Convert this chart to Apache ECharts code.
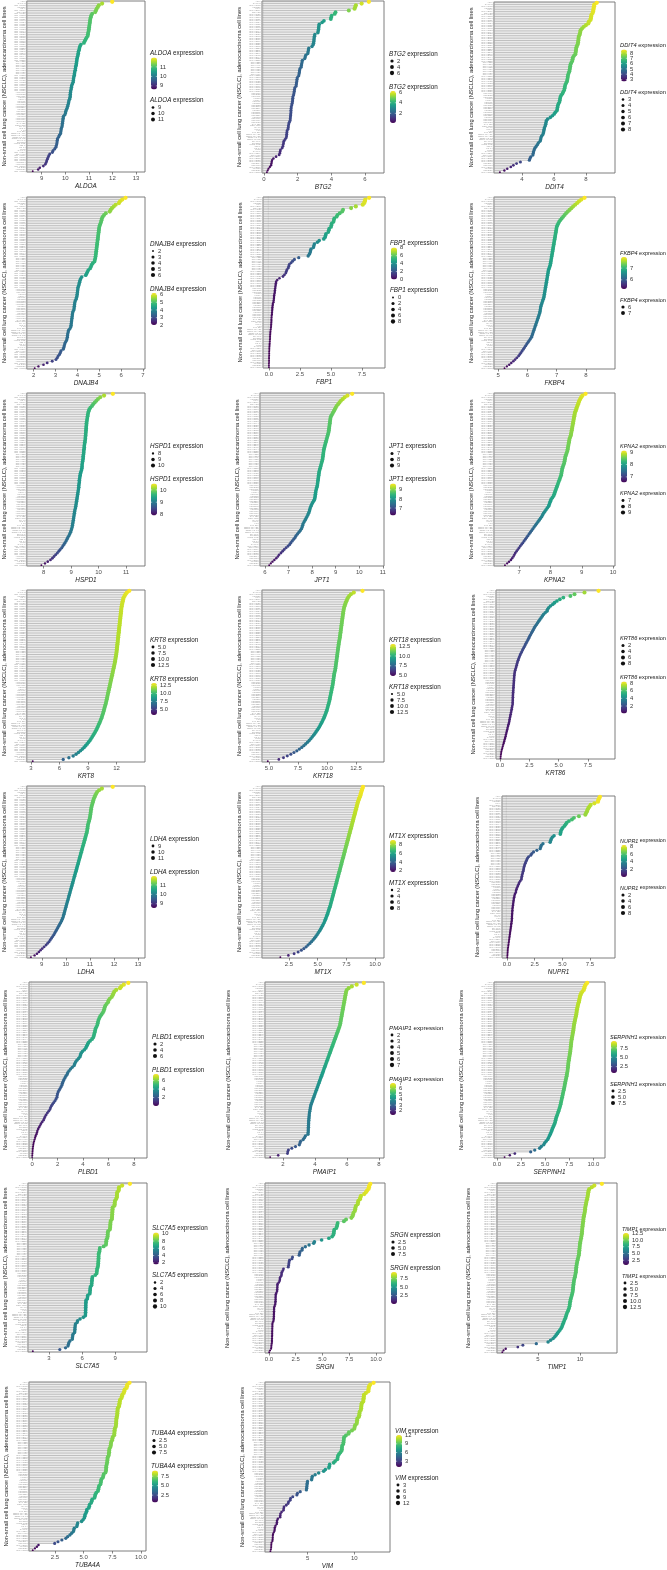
<!DOCTYPE html>
<html><head><meta charset="utf-8">
<script src="https://cdn.jsdelivr.net/npm/echarts@6/dist/echarts.min.js"></script>
<style>html,body{margin:0;padding:0;background:#fff}#c{width:667px;height:1570px}</style>
</head><body><div id="c"></div>
<script>
const cellLines = ["A549","CALU-3","NCI-H1975","HCC827","PC-9","NCI-H2009","NCI-H23","NCI-H1437","NCI-H1563","NCI-H1568",
"NCI-H1651","NCI-H1648","NCI-H1734","NCI-H1755","NCI-H1781","NCI-H1793","NCI-H1838","NCI-H1944","NCI-H2023","NCI-H2030",
"NCI-H2073","NCI-H2085","NCI-H2087","NCI-H2106","NCI-H2122","NCI-H2126","NCI-H2172","NCI-H2228","NCI-H2291","NCI-H2342",
"NCI-H2347","NCI-H2405","NCI-H2444","NCI-H3122","NCI-H3255","NCI-H322","NCI-H358","NCI-H441","NCI-H522","NCI-H650",
"NCI-H838","NCI-H920","NCI-H969","NCI-H1355","NCI-H1373","NCI-H1395","NCI-H1435","NCI-H1623","NCI-H1573","NCI-H1666",
"NCI-H1792","NCI-H2135","NCI-H1650","HCC4006","HCC2935","HCC4011","HCC78","HCC44","HCC461","HCC515",
"HCC1833","HCC2108","HCC2279","HCC366","HCC1171","HCC1195","HCC1359","HCC193","HCC4017","HCC4019",
"HCC1438","CAL-12T","COR-L105","DV-90","HLC-1","II-18","LXF-289","RERF-LC-AD1","RERF-LC-AD2","RERF-LC-KJ",
"RERF-LC-MS","SK-LU-1","SW1573","VMRC-LCD","ABC-1","PC-14","LU65","CALU-1","NCI-H1299","NCI-H460",
"NCI-H1819","NCI-H2882","NCI-H3022","NCI-H1993","HCC2814","HCC4018","NCI-H2066","LC-2/ad","HCC2429","NCI-H1703"];

const ALDOA = [11.99,11.56,11.42,11.38,11.33,11.30,11.27,11.14,11.10,11.08,11.06,11.05,11.04,11.03,11.02,11.01,11.00,10.99,10.97,10.96,10.95,
10.90,10.86,10.82,10.79,10.66,10.62,10.60,10.59,10.56,10.55,10.54,10.52,10.50,10.49,10.48,10.47,10.46,10.44,10.43,10.42,10.40,10.39,10.38,
10.36,10.35,10.34,10.33,10.30,10.27,10.26,10.25,10.23,10.22,10.21,10.21,10.20,10.18,10.15,10.14,10.12,10.10,10.08,10.05,10.02,10.01,9.98,
9.92,9.91,9.90,9.89,9.88,9.87,9.86,9.83,9.82,9.81,9.80,9.75,9.72,9.67,9.66,9.65,9.64,9.62,9.60,9.55,9.48,9.45,9.34,9.30,9.27,9.24,
9.21,9.19,9.15,9.07,8.92,8.85,8.62];
const BTG2 = [6.23,5.80,5.46,5.42,5.38,5.04,4.25,4.20,4.02,3.99,3.97,3.56,3.45,3.28,3.26,3.25,3.24,3.22,3.20,
3.02,3.00,2.98,2.97,2.96,2.94,2.92,2.85,2.66,2.64,2.62,2.60,2.48,2.45,2.42,2.28,2.26,2.24,2.22,2.20,2.13,2.11,2.10,2.08,2.06,
1.98,1.96,1.95,1.93,1.92,1.90,1.83,1.81,1.80,1.78,1.76,1.72,1.71,1.70,1.69,1.67,1.65,1.62,1.61,1.60,1.60,1.59,1.58,1.57,1.56,1.55,1.50,
1.47,1.45,1.44,1.42,1.37,1.36,1.35,1.34,1.32,1.25,1.18,1.16,1.14,1.12,1.08,0.98,0.96,0.94,0.90,0.72,0.56,0.48,0.46,0.44,0.42,0.35,0.27,0.22,0.17];
const DDIT4 = [8.67,8.52,8.50,8.48,8.46,8.44,8.41,8.34,8.32,8.30,8.28,8.18,8.14,8.00,7.86,7.75,7.66,7.64,7.62,7.58,
7.54,7.53,7.52,7.50,7.49,7.44,7.40,7.38,7.37,7.35,7.33,7.25,7.18,7.16,7.14,7.08,7.03,7.01,7.00,6.98,6.96,6.92,
6.88,6.86,6.85,6.83,6.81,6.75,6.70,6.68,6.66,6.64,6.58,6.53,6.45,6.40,6.38,6.36,6.34,6.28,6.24,6.22,6.20,6.18,6.08,
6.01,5.90,5.77,5.60,5.52,5.50,5.48,5.45,5.40,5.38,5.36,5.34,5.30,5.22,5.18,5.16,5.12,5.02,4.96,4.88,4.80,4.76,
4.72,4.70,4.68,4.55,4.50,4.46,3.90,3.66,3.46,3.30,3.08,2.90,2.62];
const DNAJB4 = [6.20,6.05,5.95,5.90,5.75,5.66,5.58,5.52,5.48,5.30,5.22,5.16,5.12,5.10,5.08,5.05,5.02,5.00,4.99,4.98,
4.97,4.96,4.95,4.94,4.93,4.92,4.91,4.90,4.89,4.88,4.87,4.86,4.85,4.84,4.83,4.82,4.80,4.78,4.70,4.65,4.62,4.58,4.50,4.46,4.42,4.38,
4.20,4.15,4.12,4.10,4.08,4.06,4.03,4.02,4.01,4.00,3.99,3.98,3.96,3.94,3.90,3.88,3.87,3.86,3.85,3.84,
3.80,3.78,3.77,3.76,3.75,3.74,3.73,3.72,3.71,3.70,3.66,3.60,3.58,3.56,3.55,3.54,3.52,3.50,3.45,3.42,3.40,3.38,3.35,
3.25,3.22,3.18,3.12,3.08,3.02,2.85,2.62,2.45,2.22,2.05];
const FBP1 = [8.07,7.76,7.72,7.68,7.56,7.00,6.62,5.97,5.90,5.70,5.52,5.45,5.26,5.23,5.20,5.06,5.03,5.00,4.85,4.82,4.78,
4.60,4.56,4.52,4.42,4.05,3.90,3.66,3.62,3.58,3.38,3.35,3.32,3.25,3.16,2.40,2.05,1.90,1.78,1.64,1.60,1.56,1.45,1.40,1.36,1.25,1.13,0.85,
0.67,0.58,0.56,0.54,0.52,0.50,0.48,0.47,0.45,0.42,0.41,0.40,0.38,0.36,0.31,0.30,0.28,0.27,0.26,0.25,0.24,0.22,
0.21,0.20,0.20,0.19,0.18,0.17,0.16,0.14,0.12,0.11,0.10,0.09,0.09,0.08,0.07,0.06,0.05,0.04,
0.03,0.03,0.02,0.02,0.02,0.01,0.01,0.01,0.01,0.00,0.00,0.00];
const FKBP4 = [7.95,7.84,7.76,7.70,7.63,7.56,7.50,7.44,7.38,7.32,7.27,7.22,7.17,7.12,7.08,7.05,
7.02,7.00,6.99,6.98,6.97,6.96,6.95,6.94,6.93,6.92,6.91,6.90,6.89,6.88,6.87,6.86,6.85,6.84,6.83,6.82,6.81,6.80,6.79,6.78,6.76,
6.74,6.72,6.71,6.70,6.69,6.68,6.67,6.66,6.65,6.64,6.63,6.62,6.61,6.60,6.59,6.58,6.57,6.56,
6.54,6.52,6.50,6.48,6.46,6.45,6.44,6.43,6.42,6.40,6.38,6.36,6.34,6.32,6.30,6.28,6.26,6.24,6.22,6.20,6.18,6.16,6.14,6.10,6.06,6.02,
5.98,5.94,5.90,5.86,5.82,5.78,5.74,5.70,5.64,5.58,5.52,5.45,5.38,5.30,5.22];
const HSPD1 = [10.52,10.20,10.06,9.98,9.92,9.86,9.80,9.76,9.70,9.66,9.64,9.62,9.61,9.60,9.59,9.58,
9.57,9.56,9.56,9.55,9.55,9.54,9.54,9.53,9.53,9.52,9.52,9.51,9.50,9.49,9.48,9.48,9.47,9.46,9.46,9.45,9.44,9.44,9.43,9.42,9.41,9.40,9.40,9.39,9.38,9.36,
9.34,9.33,9.32,9.31,9.30,9.30,9.29,9.28,9.28,9.27,9.26,9.25,9.24,9.23,9.22,9.21,9.20,9.19,9.18,9.17,9.16,
9.14,9.13,9.12,9.11,9.10,9.09,9.08,9.07,9.06,9.05,9.04,9.02,9.00,8.98,8.95,8.92,8.88,8.85,8.82,8.78,8.74,8.70,8.66,8.60,
8.55,8.50,8.44,8.38,8.32,8.25,8.15,8.05,7.92];
const JPT1 = [9.70,9.50,9.38,9.30,9.22,9.16,9.10,9.04,9.00,8.96,8.92,8.88,8.84,
8.80,8.78,8.77,8.76,8.75,8.74,8.73,8.72,8.71,8.70,8.68,8.66,8.64,8.62,8.60,8.58,8.56,8.54,
8.52,8.50,8.49,8.48,8.47,8.46,8.45,8.44,8.42,8.40,8.38,8.36,8.34,8.32,8.30,
8.29,8.28,8.27,8.26,8.25,8.24,8.23,8.22,8.20,8.18,8.16,8.15,8.14,8.13,8.12,8.10,
8.06,8.02,7.98,7.95,7.92,7.90,7.88,7.85,7.82,7.78,7.74,7.70,7.66,7.62,7.60,7.58,7.55,7.50,7.44,7.38,7.32,7.28,7.22,7.16,7.10,
7.05,6.98,6.90,6.82,6.75,6.68,6.60,6.55,6.48,6.40,6.32,6.25,6.18];
const KPNA2 = [9.12,9.02,8.98,8.95,8.92,8.90,8.88,8.86,8.84,8.82,8.80,
8.78,8.77,8.76,8.75,8.74,8.73,8.72,8.71,8.70,8.69,8.68,8.67,8.66,8.65,8.63,
8.61,8.60,8.59,8.58,8.57,8.56,8.55,8.54,8.52,8.50,8.48,8.47,8.46,8.45,8.44,8.42,8.40,
8.38,8.37,8.36,8.35,8.34,8.32,8.30,8.28,8.26,8.24,8.22,8.20,8.18,8.16,8.14,8.12,8.10,8.06,
8.02,8.00,7.98,7.96,7.94,7.90,7.86,7.82,7.78,7.75,7.72,7.68,7.64,7.60,7.56,
7.52,7.48,7.44,7.40,7.36,7.32,7.28,7.24,7.20,7.16,7.12,7.08,7.04,7.00,6.96,6.92,6.88,6.85,6.82,6.78,6.74,6.68,6.62,6.55];
const KRT8 = [13.35,13.10,12.95,12.85,12.75,12.70,12.66,12.62,12.58,12.55,12.52,
12.50,12.48,12.46,12.44,12.42,12.40,12.38,12.36,12.34,12.32,12.30,12.28,12.26,
12.24,12.22,12.20,12.18,12.16,12.14,12.12,12.10,12.08,12.06,12.04,12.02,12.00,11.97,11.94,11.91,11.88,
11.85,11.82,11.78,11.74,11.70,11.66,11.62,11.58,11.54,11.50,11.46,11.42,11.38,11.34,11.30,11.26,11.22,11.18,
11.14,11.10,11.06,11.02,10.98,10.94,10.90,10.85,10.80,10.75,10.70,10.65,10.60,10.54,10.48,10.42,10.35,
10.28,10.20,10.12,10.04,9.95,9.86,9.76,9.66,9.55,9.44,9.32,9.20,9.06,8.92,8.76,8.60,8.42,8.22,8.00,7.75,7.45,7.00,6.40,3.20];
const KRT18 = [13.05,12.30,12.05,11.90,11.80,11.72,11.66,11.60,11.55,11.50,
11.46,11.43,11.40,11.38,11.36,11.34,11.32,11.30,11.28,11.26,11.24,11.22,11.20,11.18,11.16,11.14,11.12,11.10,11.08,11.05,
11.02,11.00,10.98,10.96,10.94,10.92,10.90,10.88,10.86,10.84,10.82,10.80,10.78,10.76,10.74,10.72,10.70,10.66,
10.62,10.60,10.58,10.56,10.54,10.52,10.50,10.47,10.44,10.41,10.38,10.35,10.32,10.29,10.26,10.23,10.20,10.16,
10.12,10.08,10.04,10.00,9.95,9.90,9.84,9.78,9.72,9.65,9.58,9.50,9.42,9.34,9.25,
9.15,9.05,8.95,8.84,8.72,8.60,8.46,8.32,8.16,8.00,7.82,7.62,7.40,7.15,6.88,6.58,6.25,5.85,4.90];
const KRT86 = [8.40,7.20,6.35,6.00,5.40,5.10,4.85,4.65,4.50,4.30,4.15,4.05,4.00,3.85,3.70,3.60,3.50,3.40,
3.30,3.20,3.10,3.00,2.92,2.84,2.76,2.68,2.60,2.52,2.45,2.38,2.30,2.22,2.15,2.08,2.00,1.92,1.85,1.78,1.72,1.66,1.60,1.55,
1.50,1.46,1.42,1.38,1.34,1.30,1.26,1.24,1.22,1.21,1.20,1.19,1.18,1.17,1.16,1.15,1.14,1.13,1.12,1.11,1.10,1.10,1.09,1.09,1.08,1.08,
1.05,1.02,1.00,0.97,0.94,0.91,0.88,0.85,0.82,0.80,0.77,0.73,0.69,0.65,0.62,0.58,0.55,0.51,0.48,0.44,0.40,
0.36,0.32,0.28,0.24,0.20,0.16,0.12,0.10,0.08,0.06,0.05];
const LDHA = [11.95,11.50,11.38,11.30,11.26,11.22,11.19,11.16,11.14,11.12,
11.10,11.08,11.06,11.05,11.04,11.03,11.02,11.01,11.00,10.98,10.96,10.94,10.92,10.91,10.90,10.89,10.88,
10.86,10.84,10.82,10.80,10.78,10.76,10.74,10.72,10.70,10.68,10.66,10.64,10.62,10.60,10.58,10.56,10.54,10.52,10.50,10.48,
10.46,10.44,10.42,10.40,10.38,10.36,10.34,10.32,10.30,10.28,10.26,10.24,10.22,10.20,10.18,10.16,10.14,10.12,10.10,10.08,
10.06,10.04,10.02,10.00,9.98,9.96,9.94,9.92,9.90,9.88,9.85,9.82,9.78,9.74,9.70,9.66,9.62,
9.58,9.54,9.50,9.45,9.40,9.35,9.30,9.24,9.18,9.10,9.02,8.95,8.88,8.80,8.70,8.55];
const MT1X = [8.95,8.90,8.85,8.80,8.76,8.72,8.66,8.60,8.55,8.50,8.46,8.42,8.38,8.34,8.30,8.26,8.22,8.18,
8.14,8.10,8.06,8.02,7.98,7.94,7.90,7.86,7.82,7.78,7.74,7.70,7.66,7.62,7.58,
7.54,7.50,7.46,7.42,7.38,7.34,7.30,7.26,7.22,7.18,7.14,7.10,7.06,7.02,6.98,6.94,6.90,6.86,6.82,6.78,
6.74,6.70,6.66,6.62,6.58,6.54,6.50,6.46,6.42,6.38,6.34,6.30,6.26,6.22,6.18,6.14,6.10,6.05,6.00,5.95,
5.90,5.85,5.80,5.74,5.68,5.62,5.56,5.48,5.40,5.32,5.24,5.15,5.05,4.95,
4.84,4.72,4.60,4.46,4.32,4.16,4.00,3.80,3.58,3.30,2.95,2.45,1.75];
const NUPR1 = [8.40,8.32,8.25,8.22,7.90,7.56,7.45,7.35,7.28,7.23,7.15,7.08,6.50,6.05,5.87,5.60,5.40,
5.30,5.20,5.05,4.95,4.88,4.85,4.82,4.25,4.10,4.00,3.95,3.90,3.25,3.10,3.05,3.00,2.70,2.40,2.25,
2.15,1.95,1.85,1.78,1.72,1.66,1.60,1.56,1.52,1.50,1.46,1.42,1.38,1.35,1.32,1.30,1.20,1.10,
1.05,0.98,0.92,0.86,0.82,0.80,0.72,0.68,0.65,0.62,0.60,0.58,0.56,0.54,0.52,0.50,0.49,0.48,0.47,0.46,0.45,0.45,
0.44,0.42,0.40,0.38,0.36,0.34,0.32,0.30,0.28,0.26,0.24,0.22,0.20,0.18,0.16,0.14,0.12,0.10,0.08,0.07,0.06,0.05,0.04,0.03];
const PLBD1 = [7.55,7.20,7.00,6.90,6.60,6.45,6.38,6.32,6.25,6.10,6.00,5.96,5.85,5.75,5.70,5.66,
5.62,5.55,5.45,5.35,5.28,5.22,5.18,5.15,5.12,5.05,4.98,4.95,4.92,4.88,4.85,4.80,4.70,4.55,4.42,4.35,4.28,
4.22,4.10,3.95,3.85,3.80,3.76,3.65,3.52,3.42,3.35,3.30,3.15,3.02,2.90,2.80,2.75,2.65,2.58,2.50,2.44,2.38,
2.35,2.28,2.20,2.12,2.05,2.00,1.97,1.95,1.88,1.80,1.70,1.60,1.52,1.45,1.40,1.30,1.20,1.10,1.02,0.96,
0.90,0.80,0.70,0.63,0.55,0.48,0.42,0.39,0.34,0.28,0.24,0.20,0.16,0.12,0.10,0.08,0.06,0.05,0.04,0.03,0.02,0.01];
const PMAIP1 = [7.05,6.60,6.30,6.10,5.98,5.94,5.92,5.90,5.88,5.86,5.84,5.82,5.80,
5.78,5.76,5.74,5.72,5.70,5.68,5.66,5.64,5.62,5.60,5.58,5.56,5.52,5.48,5.44,5.40,5.36,5.32,5.28,5.24,5.20,5.16,5.12,5.08,
5.04,5.00,4.96,4.92,4.88,4.84,4.80,4.76,4.72,4.68,4.64,4.60,4.56,4.52,
4.48,4.44,4.40,4.36,4.32,4.28,4.24,4.20,4.16,4.12,4.08,4.04,4.00,3.96,
3.92,3.88,3.84,3.80,3.76,3.73,3.71,3.69,3.67,3.65,3.64,3.63,3.62,3.61,3.60,3.60,3.59,3.59,3.58,3.58,3.57,3.56,
3.40,3.34,3.26,3.10,3.06,3.02,2.78,2.55,2.34,2.30,2.28,1.70,1.20];
const SERPINH1 = [9.35,9.20,9.10,9.05,9.00,8.85,8.72,8.65,8.60,8.56,8.52,8.48,8.42,8.38,8.34,8.30,8.27,8.25,
8.22,8.18,8.14,8.10,8.06,8.02,7.99,7.96,7.94,7.92,7.88,7.85,7.82,7.78,7.75,7.72,7.70,7.68,7.66,7.64,7.62,
7.60,7.57,7.54,7.51,7.48,7.45,7.42,7.40,7.38,7.36,7.34,7.32,7.28,7.25,7.22,7.18,7.14,7.10,7.06,7.03,7.00,6.96,6.92,
6.88,6.84,6.80,6.76,6.72,6.68,6.64,6.60,6.55,6.50,6.44,6.38,6.32,6.25,6.18,6.12,6.08,6.04,5.98,5.90,5.82,5.74,5.68,
5.60,5.52,5.44,5.35,5.26,5.10,4.95,4.85,4.60,4.43,3.92,3.50,1.86,1.34,0.80];
const SLC7A5 = [10.35,9.64,9.36,9.34,9.32,9.20,9.18,9.17,9.16,9.10,8.99,8.97,8.96,8.94,
8.78,8.77,8.76,8.75,8.74,8.73,8.72,8.70,8.60,8.58,8.57,8.56,8.55,8.52,8.36,8.34,8.33,8.32,8.30,8.22,8.20,8.19,8.17,
7.96,7.62,7.60,7.58,7.52,7.51,7.50,7.50,7.49,7.48,7.47,7.46,7.44,7.38,7.36,7.34,7.32,7.20,
6.95,6.92,6.90,6.89,6.88,6.86,6.76,6.74,6.73,6.72,6.70,6.52,6.50,6.48,
6.36,6.35,6.34,6.34,6.33,6.33,6.32,6.32,6.31,6.30,6.12,5.82,5.60,5.55,5.40,5.38,5.36,5.35,5.34,5.32,
5.18,5.15,5.13,5.11,4.90,4.80,4.76,4.72,4.50,3.98,1.53];
const SRGN = [9.47,9.38,9.34,9.30,9.16,9.05,8.90,8.60,8.54,8.50,8.35,8.32,8.28,8.12,8.08,8.05,8.02,7.90,7.86,7.80,7.70,
7.20,7.00,6.42,6.38,6.35,6.30,6.10,6.07,6.05,6.02,5.90,5.60,4.92,4.25,4.18,3.75,3.40,3.12,3.08,2.90,2.86,2.82,2.20,2.15,
1.92,1.88,1.86,1.84,1.80,1.36,1.30,1.20,1.18,1.16,1.05,1.02,1.00,0.92,0.80,0.79,0.78,0.77,0.76,0.70,
0.64,0.63,0.62,0.62,0.61,0.60,0.58,0.52,0.48,0.48,0.47,0.47,0.46,0.46,0.45,0.44,0.40,
0.33,0.32,0.32,0.31,0.31,0.30,0.30,0.30,0.29,0.29,0.28,0.28,0.26,0.23,0.22,0.20,0.10,0.02];
const TIMP1 = [12.60,11.70,11.40,11.10,11.02,10.98,10.95,10.92,10.88,10.84,10.78,10.74,10.70,10.66,10.62,10.60,10.58,10.55,10.50,
10.46,10.42,10.40,10.38,10.35,10.32,10.30,10.28,10.26,10.24,10.22,10.20,10.16,10.12,10.08,
10.04,10.00,9.98,9.96,9.94,9.92,9.90,9.88,9.85,9.80,9.75,9.70,9.66,9.62,9.58,9.56,9.54,9.52,9.50,9.46,9.42,9.38,9.32,
9.28,9.25,9.22,9.20,9.18,9.16,9.14,9.10,9.05,9.00,8.94,8.88,8.84,8.80,8.78,8.75,8.70,8.62,8.55,8.45,8.38,
8.32,8.25,8.16,8.08,8.00,7.92,7.85,7.75,7.60,7.45,7.30,7.15,7.00,6.80,6.50,6.20,4.80,3.20,2.60,1.16,0.90,0.75];
const TUBA4A = [9.00,8.82,8.78,8.74,8.58,8.54,8.50,8.38,8.34,8.30,8.18,8.15,8.13,8.11,8.08,7.98,7.96,7.95,7.94,7.93,7.90,
7.86,7.85,7.84,7.83,7.82,7.80,7.72,7.70,7.69,7.68,7.66,7.54,7.51,7.48,7.40,7.38,7.36,7.33,7.25,7.23,7.22,7.20,7.18,
7.10,7.08,7.07,7.05,7.02,6.98,6.97,6.96,6.95,6.90,6.75,6.72,6.68,6.55,6.52,6.50,6.46,6.34,6.31,6.28,6.25,6.10,
6.02,5.99,5.95,5.74,5.70,5.66,5.52,5.49,5.45,5.28,5.26,5.20,5.12,5.10,5.06,4.95,4.82,4.48,4.44,4.40,
4.18,4.14,4.10,3.95,3.80,3.60,3.44,3.10,2.76,2.47,1.06,0.92,0.75,0.56];
const VIM = [12.07,11.71,11.58,11.55,11.52,11.50,11.25,11.04,11.02,11.00,10.98,10.96,10.80,10.77,10.75,10.73,10.70,
10.58,10.55,10.53,10.50,10.33,10.30,10.28,10.25,10.08,10.04,10.00,9.75,9.42,9.38,9.10,8.90,8.88,8.86,8.84,8.82,
8.70,8.68,8.66,8.64,8.50,8.35,8.24,8.21,8.18,7.95,7.79,7.36,7.32,7.28,6.90,6.71,6.18,5.80,5.50,5.46,5.42,
4.98,4.95,4.93,4.91,4.89,4.86,4.20,3.90,3.84,3.40,3.16,3.12,2.95,2.90,2.70,2.46,2.43,2.40,2.20,2.08,2.06,2.04,
1.80,1.72,1.70,1.68,1.55,1.48,1.46,1.44,1.36,1.28,1.26,1.25,1.24,1.22,1.12,1.10,1.09,1.08,1.05,1.00];

const expr = {ALDOA,BTG2,DDIT4,DNAJB4,FBP1,FKBP4,HSPD1,JPT1,KPNA2,KRT8,KRT18,KRT86,LDHA,MT1X,NUPR1,PLBD1,PMAIP1,SERPINH1,SLC7A5,SRGN,TIMP1,TUBA4A,VIM};

// x-axis tick labels, in panel order
const xTickValues = [[9,10,11,12,13],[0,2,4,6],[4,6,8],[2,3,4,5,6,7],[0,2.5,5,7.5],[5,6,7,8],[8,9,10,11],[6,7,8,9,10,11],[7,8,9,10],
[3,6,9,12],[5,7.5,10,12.5],[0,2.5,5,7.5],[9,10,11,12,13],[2.5,5,7.5,10],[0,2.5,5,7.5],[0,2,4,6,8],[2,4,6,8],[0,2.5,5,7.5,10],
[3,6,9],[0,2.5,5,7.5,10],[5,10],[2.5,5,7.5,10],[5,10]];
// legend breaks (colour bar and size legend), in panel order
const legendBreaks = [[9,10,11],[2,4,6],[3,4,5,6,7,8],[2,3,4,5,6],[0,2,4,6,8],[6,7],[8,9,10],[7,8,9],[7,8,9],
[5,7.5,10,12.5],[5,7.5,10,12.5],[2,4,6,8],[9,10,11],[2,4,6,8],[2,4,6,8],[2,4,6],[2,3,4,5,6,7],[2.5,5,7.5],
[2,4,6,8,10],[2.5,5,7.5],[2.5,5,7.5,10,12.5],[2.5,5,7.5],[3,6,9,12]];

// layout: gene, column, box left, box right, box top, box bottom, x min, x max, y-title x, legend order
const layout = [
 ['ALDOA',   0, 26,145,   1, 172, 8.37, 13.38,   5,'cs'],
 ['BTG2',    1,262,384,   1, 173, -0.12, 7.13, 244,'sc'],
 ['DDIT4',   2,494,615,   2, 173, 2.25, 9.81, 475,'cs'],
 ['DNAJB4',  0, 24,145, 197, 369, 1.69, 7.09,   5,'sc'],
 ['FBP1',    1,263,385, 197, 368, -0.48, 9.35, 244,'cs'],
 ['FKBP4',   2,494,615, 197, 369, 4.86, 8.99, 475,'cs'],
 ['HSPD1',   0, 26,145, 393, 566, 7.39, 11.69,  5,'sc'],
 ['JPT1',    1,260,384, 393, 566, 5.79, 11.05, 243,'sc'],
 ['KPNA2',   2,494,615, 393, 566, 6.2, 10.06, 473,'cs'],
 ['KRT8',    0, 26,145, 590, 762, 2.58, 15.0,   5,'sc'],
 ['KRT18',   1,262,384, 590, 762, 4.4, 14.9,  244,'cs'],
 ['KRT86',   2,496,615, 590, 759, -0.34, 9.8, 474,'sc'],
 ['LDHA',    0, 26,145, 786, 958, 8.38, 13.29,  5,'sc'],
 ['MT1X',    1,262,384, 786, 958, 0.15, 10.78, 244,'cs'],
 ['NUPR1',   2,502,615, 796, 958, -0.45, 9.76, 477,'cs'],
 ['PLBD1',   0, 29,147, 982,1158, -0.24, 9.02,  5,'sc'],
 ['PMAIP1',  1,265,384, 982,1158, 0.875, 8.31, 228,'sc'],
 ['SERPINH1',2,494,605, 982,1158, -0.3, 11.2, 461,'cs'],
 ['SLC7A5',  0, 28,147,1183,1352, 1.09, 11.9,   5,'cs'],
 ['SRGN',    1,265,385,1183,1353, -0.37,10.84, 227,'sc'],
 ['TIMP1',   2,497,617,1183,1353, 0.12, 14.4, 468,'cs'],
 ['TUBA4A',  0, 29,146,1382,1551, 0.23, 10.44,  7,'sc'],
 ['VIM',     1,265,390,1382,1552, 0.42, 13.83, 246,'cs']
];

const Y_TITLE = 'Non-small cell lung cancer (NSCLC), adenocarcinoma cell lines';
const FONT = '"Liberation Sans", Arial, Helvetica, sans-serif';
const viridis = ['#440154','#482878','#3e4a89','#31688e','#26828e','#1f9e89','#35b779','#6ece58','#b5de2b','#fde725'];
const fmt = arr => { const d = arr.some(v => Math.abs(v % 1) > 1e-9) ? 1 : 0; return v => Number(v).toFixed(d); };
const mctx = document.createElement('canvas').getContext('2d');
const titleWidth10 = g => { mctx.font = 'italic 10px ' + FONT; const a = mctx.measureText(g + ' ').width; mctx.font = '10px ' + FONT; return a + mctx.measureText('expression').width; };

const option = {animation:false, backgroundColor:'#fff', textStyle:{fontFamily:FONT},
  grid:[], xAxis:[], yAxis:[], series:[], visualMap:[], graphic:{elements:[]}};
const G = option.graphic.elements;

layout.forEach((L, k) => {
  const [g, col, bl, br, bt, bb, xmin, xmax, ytx, order] = L;
  const vals = expr[g];
  const ticks = xTickValues[k], brks = legendBreaks[k];
  const vmin = Math.min(...vals), vmax = Math.max(...vals);
  const dia = v => 1.9 + 2.4 * Math.sqrt(Math.max(0, (v - vmin) / (vmax - vmin)));
  const data = vals.map((v, i) => [v, i]);
  option.grid.push({left:bl, top:bt, width:br-bl, height:bb-bt, show:true, borderColor:'#707070', borderWidth:0.9, backgroundColor:'#fff'});
  option.xAxis.push({type:'value', gridIndex:k, min:xmin, max:xmax, name:g, nameLocation:'middle', nameGap:11,
    nameTextStyle:{fontStyle:'italic', fontSize:6.4, color:'#1a1a1a', fontFamily:FONT},
    axisLine:{show:false}, splitLine:{show:false},
    axisTick:{show:true, length:2.5, lineStyle:{color:'#555', width:0.7}, customValues:ticks},
    axisLabel:{fontSize:6, color:'#4d4d4d', margin:3.5, fontFamily:FONT, customValues:ticks, formatter:fmt(ticks)}});
  option.yAxis.push({type:'category', gridIndex:k, data:cellLines, inverse:true,
    name:Y_TITLE, nameLocation:'middle', nameGap:bl - ytx - 3,
    nameTextStyle:{fontSize:5.7, color:'#1a1a1a', fontFamily:FONT},
    axisLine:{show:false}, splitLine:{show:false},
    axisTick:{show:true, length:1.2, lineStyle:{color:'#8a8a8a', width:0.3}},
    axisLabel:{interval:0, fontSize:2.2, color:'#999', margin:1.5, fontFamily:FONT}});
  option.series.push({type:'custom', xAxisIndex:k, yAxisIndex:k, data, encode:{x:0, y:1}, silent:true, clip:true,
    renderItem:(params, api) => {
      const p = api.coord([api.value(0), api.value(1)]);
      const x0 = params.coordSys.x;
      return {type:'line', shape:{x1:x0, y1:p[1], x2:p[0], y2:p[1]}, style:{stroke:'#a3a3a3', lineWidth:0.7}};
    }});
  option.series.push({type:'scatter', xAxisIndex:k, yAxisIndex:k, data, silent:true, z:3,
    symbolSize:d => dia(d[0]), itemStyle:{opacity:1}});

  // legends
  const lx = br + 5;
  const cellRight = col === 2 ? 666 : (col + 1) * 222.3 - 1;
  const tfs = Math.min(6.3, 10 * (cellRight - lx) / titleWidth10(g));
  const cbH = 39, sizeH = 13 + (brks.length - 1) * 6, gap = 8;
  let top = (bt + bb) / 2 - (cbH + sizeH + gap) / 2;
  const bf = fmt(brks);
  const title = y => G.push({type:'text', x:lx, y, silent:true,
    style:{text:'{i|' + g + '} expression', fontSize:tfs, fill:'#1a1a1a', fontFamily:FONT, verticalAlign:'middle',
      rich:{i:{fontStyle:'italic', fontSize:tfs, fontFamily:FONT, fill:'#1a1a1a'}}}});
  (order === 'cs' ? ['c','s'] : ['s','c']).forEach(b => {
    if (b === 'c') {
      title(top + 3);
      const barTop = top + 7, barH = 32;
      option.visualMap.push({type:'continuous', seriesIndex:2*k+1, dimension:0, min:vmin, max:vmax,
        inRange:{color:viridis}, show:true, calculable:false, hoverLink:false, itemWidth:6, itemHeight:barH,
        left:lx + 1, top:barTop, padding:0, orient:'vertical'});
      brks.forEach(v => {
        const y = barTop + (vmax - v) / (vmax - vmin) * barH;
        G.push({type:'text', x:lx + 10, y, silent:true, style:{text:bf(v), fontSize:5.8, fill:'#333', fontFamily:FONT, verticalAlign:'middle'}});
        G.push({type:'line', silent:true, z:10, shape:{x1:lx + 1, y1:y, x2:lx + 2.2, y2:y}, style:{stroke:'#fff', lineWidth:0.5}});
        G.push({type:'line', silent:true, z:10, shape:{x1:lx + 5.8, y1:y, x2:lx + 7, y2:y}, style:{stroke:'#fff', lineWidth:0.5}});
      });
      top += cbH + gap;
    } else {
      title(top + 3);
      brks.forEach((v, j) => {
        const y = top + 10 + j * 6;
        G.push({type:'circle', silent:true, shape:{cx:lx + 3, cy:y, r:dia(Math.min(Math.max(v, vmin), vmax)) / 2}, style:{fill:'#111'}});
        G.push({type:'text', x:lx + 8, y, silent:true, style:{text:bf(v), fontSize:5.8, fill:'#333', fontFamily:FONT, verticalAlign:'middle'}});
      });
      top += sizeH + gap;
    }
  });
});

const chart = echarts.init(document.getElementById('c'), null, {renderer:'canvas'});
chart.setOption(option);
</script>
</body></html>
